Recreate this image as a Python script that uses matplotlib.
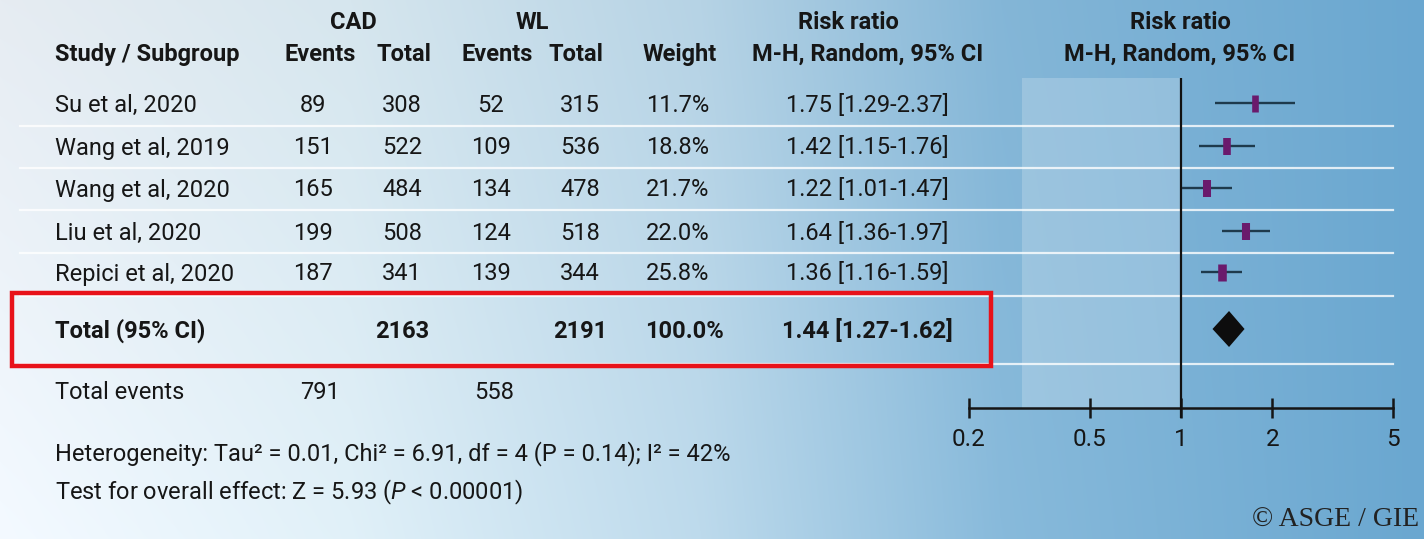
import numpy as np
import matplotlib
matplotlib.use('Agg')
import matplotlib.pyplot as plt
from matplotlib.ticker import NullLocator
from matplotlib.patches import Rectangle, Polygon

# study data
studies = ['Su et al, 2020', 'Wang et al, 2019', 'Wang et al, 2020', 'Liu et al, 2020', 'Repici et al, 2020']
cad_events = [89, 151, 165, 199, 187]
cad_total = [308, 522, 484, 508, 341]
wl_events = [52, 109, 134, 124, 139]
wl_total = [315, 536, 478, 518, 344]
weight = [11.7, 18.8, 21.7, 22.0, 25.8]
rr = [1.75, 1.42, 1.22, 1.64, 1.36]
rr_lo = [1.29, 1.15, 1.01, 1.36, 1.16]
rr_hi = [2.37, 1.76, 1.47, 1.97, 1.59]

# pooled result
pooled_rr, pooled_lo, pooled_hi = 1.44, 1.27, 1.62
total_cad = 2163
total_wl = 2191
events_cad = 791
events_wl = 558

xticks = [0.2, 0.5, 1, 2, 5]
xticklabels = ['0.2', '0.5', '1', '2', '5']

FONT = ['Roboto', 'DejaVu Sans']
plt.rcParams['font.family'] = FONT
plt.rcParams['mathtext.fontset'] = 'custom'
plt.rcParams['mathtext.rm'] = 'Roboto'
plt.rcParams['mathtext.it'] = 'Roboto:italic'

W, H = 1424, 539
fig = plt.figure(figsize=(W/100, H/100), dpi=100)

# background: pixel coords
ax = fig.add_axes([0, 0, 1, 1])
ax.set_xlim(0, W)
ax.set_ylim(H, 0)
ax.axis('off')

xs = np.arange(W)
ys = np.arange(H)
stops = [0, 350, 700, 1000, 1424]
R = np.interp(xs, stops, [230, 214, 182, 132, 106])
G = np.interp(xs, stops, [236, 230, 211, 182, 167])
B = np.interp(xs, stops, [242, 238, 229, 215, 208])
img = np.dstack([np.tile(c, (H, 1)) for c in (R, G, B)])
# lighter toward the bottom left
lift = (ys[:, None]/H) * (1 - xs[None, :]/W) * 14
img = np.clip(img + lift[:, :, None], 0, 255)/255.0
ax.imshow(img, extent=[0, W, H, 0], aspect='auto', zorder=0)

# lighter panel left of the null line
ax.add_patch(Rectangle((1022, 78), 160, 330, fc='white', alpha=0.2, lw=0, zorder=1))

# row separators
for y in [126, 168, 210, 253, 296, 364]:
    ax.plot([20, 1393], [y, y], color='white', alpha=0.8, lw=1.6, zorder=2)

txt = dict(color='#161616', fontsize=17, va='baseline', zorder=5)
bold = dict(txt, fontweight='bold')

# headers
ax.text(353, 29, 'CAD', ha='center', **bold)
ax.text(532, 29, 'WL', ha='center', **bold)
ax.text(848, 29, 'Risk ratio', ha='center', **bold)
ax.text(1180, 29, 'Risk ratio', ha='center', **bold)
ax.text(55, 61, 'Study / Subgroup', ha='left', **bold)
ax.text(320, 61, 'Events', ha='center', **bold)
ax.text(404, 61, 'Total', ha='center', **bold)
ax.text(497, 61, 'Events', ha='center', **bold)
ax.text(576, 61, 'Total', ha='center', **bold)
ax.text(680, 61, 'Weight', ha='center', **bold)
ax.text(868, 61, 'M-H, Random, 95% CI', ha='center', **bold)
ax.text(1180, 61, 'M-H, Random, 95% CI', ha='center', **bold)

row_y = [103, 146, 188, 231, 272]
for i, y in enumerate(row_y):
    b = y + 8.5
    ax.text(55, b, studies[i], ha='left', **txt)
    ax.text(313, b, str(cad_events[i]), ha='center', **txt)
    ax.text(402, b, str(cad_total[i]), ha='center', **txt)
    ax.text(491, b, str(wl_events[i]), ha='center', **txt)
    ax.text(580, b, str(wl_total[i]), ha='center', **txt)
    ax.text(678, b, f'{weight[i]:.1f}%', ha='center', **txt)
    ax.text(867, b, f'{rr[i]:.2f} [{rr_lo[i]:.2f}-{rr_hi[i]:.2f}]', ha='center', **txt)

tot_y = 329
b = tot_y + 8.5
ax.text(55, b, 'Total (95% CI)', ha='left', **bold)
ax.text(402, b, str(total_cad), ha='center', **bold)
ax.text(580, b, str(total_wl), ha='center', **bold)
ax.text(684, b, f'{sum(weight):.1f}%', ha='center', **bold)
ax.text(867, b, f'{pooled_rr:.2f} [{pooled_lo:.2f}-{pooled_hi:.2f}]', ha='center', **bold)

ax.text(55, 399, 'Total events', ha='left', **txt)
ax.text(320, 399, str(events_cad), ha='center', **txt)
ax.text(494, 399, str(events_wl), ha='center', **txt)

ax.text(55, 460, 'Heterogeneity: Tau² = 0.01, Chi² = 6.91, df = 4 (P = 0.14); I² = 42%', ha='left', **txt)
ax.text(55, 499, 'Test for overall effect: Z = 5.93 ($P$ < 0.00001)', ha='left', **txt)

# highlight box round the pooled row
ax.add_patch(Rectangle((12, 293), 979, 73, fill=False, ec='#e8121a', lw=3.2, zorder=6))

ax.text(1419, 527, '© ASGE / GIE', ha='right', va='baseline', fontsize=20,
        family='Liberation Serif', color='#222222', zorder=5)

# forest plot on a log scale
fa = fig.add_axes([969/W, 0, 424/W, 1])
fa.patch.set_visible(False)
fa.set_xscale('log')
fa.set_xlim(0.2, 5)
fa.set_ylim(H, 0)

fa.vlines(1, 78, 418, color='#111111', lw=1.6, zorder=3)
for i, y in enumerate(row_y):
    fa.hlines(y, rr_lo[i], rr_hi[i], color='#1e3a4c', lw=1.7, zorder=4)
    fa.plot([rr[i], rr[i]], [y - 8.5, y + 8.5], color='#6a1a6c', lw=3.6 + 0.1*weight[i],
            solid_capstyle='butt', zorder=5)

fa.add_patch(Polygon([(pooled_lo, tot_y), (pooled_rr, tot_y - 18), (pooled_hi, tot_y),
                      (pooled_rr, tot_y + 18)], closed=True, fc='#0d0d0d', ec='none', zorder=5))

for s in ['top', 'left', 'right']:
    fa.spines[s].set_visible(False)
fa.spines['bottom'].set_position(('data', 408))
fa.spines['bottom'].set_linewidth(1.8)
fa.spines['bottom'].set_color('#151515')
fa.yaxis.set_visible(False)
fa.set_xticks(xticks)
fa.set_xticklabels(xticklabels)
fa.xaxis.set_minor_locator(NullLocator())
fa.tick_params(axis='x', direction='inout', length=15, width=1.8, color='#151515',
               labelsize=17.5, labelcolor='#161616', pad=7)

fig.savefig('out.png', dpi=100)
